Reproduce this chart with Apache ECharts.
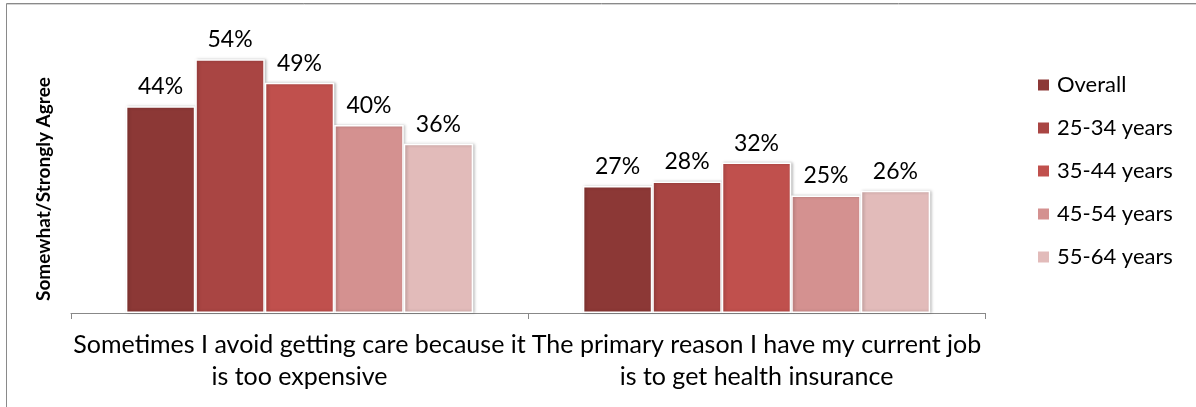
<!DOCTYPE html>
<html><head><meta charset="utf-8">
<script src="https://cdn.jsdelivr.net/npm/echarts@6/dist/echarts.min.js"></script>
<style>html,body{margin:0;padding:0;background:#fff}#c{width:1196px;height:407px}</style>
</head><body><div id="c"></div>
<script>
const categories = ["Sometimes I avoid getting care because it\nis too expensive", "The primary reason I have my current job\nis to get health insurance"];
const seriesNames = ["Overall", "25-34 years", "35-44 years", "45-54 years", "55-64 years"];
const overall = [44, 27];
const age2534 = [54, 28];
const age3544 = [49, 32];
const age4554 = [40, 25];
const age5564 = [36, 26];
const yAxisTitle = "Somewhat/Strongly Agree";
const colors = ["#8C3836", "#A94543", "#C0504D", "#D49190", "#E2BBBA"];
const values = [overall, age2534, age3544, age4554, age5564];
const FONT = "Lato";
const chart = echarts.init(document.getElementById('c'));
chart.setOption({
  animation: false,
  color: colors,
  textStyle: {fontFamily: FONT},
  grid: {left: 71, right: 211, top: 31, bottom: 94},
  legend: {
    orient: 'vertical', left: 1031, top: 69, itemWidth: 13, itemHeight: 13, itemGap: 21,
    icon: 'rect',
    textStyle: {fontFamily: FONT, fontSize: 22, color: '#000', padding: [0, 0, 0, 2]},
    data: seriesNames
  },
  xAxis: {
    type: 'category', data: categories,
    axisLine: {lineStyle: {color: '#888', width: 1}},
    axisTick: {show: true, length: 6, lineStyle: {color: '#888'}},
    axisLabel: {fontFamily: FONT, fontSize: 25, color: '#000', lineHeight: 32, margin: 16, interval: 0}
  },
  yAxis: {type: 'value', min: 0, max: 60, show: false, splitLine: {show: false}},
  graphic: [
    {type: 'line', shape: {x1: 6.5, y1: 3.5, x2: 1196, y2: 3.5}, style: {stroke: '#8a8a8a', lineWidth: 1}},
    {type: 'line', shape: {x1: 7, y1: 4.5, x2: 1196, y2: 4.5}, style: {stroke: '#d4d4d4', lineWidth: 1}},
    {type: 'line', shape: {x1: 6.5, y1: 3.5, x2: 6.5, y2: 407}, style: {stroke: '#8a8a8a', lineWidth: 1}},
    {type: 'text', x: 44, y: 189, rotation: Math.PI / 2,
     style: {text: yAxisTitle, fontFamily: FONT, fontWeight: 'bold', fontSize: 19, fill: '#000', align: 'center', verticalAlign: 'middle'}}
  ],
  series: seriesNames.map((n, i) => ({
    name: n, type: 'bar', data: values[i],
    barGap: '0%', barCategoryGap: '24%',
    itemStyle: {borderColor: '#fff', borderWidth: 1.5, shadowColor: 'rgba(0,0,0,0.25)', shadowBlur: 3, shadowOffsetX: 1.5, shadowOffsetY: 0},
    label: {show: true, position: 'top', distance: 8, formatter: '{c}%', fontFamily: FONT, fontSize: 23, color: '#000'}
  }))
});
</script></body></html>
